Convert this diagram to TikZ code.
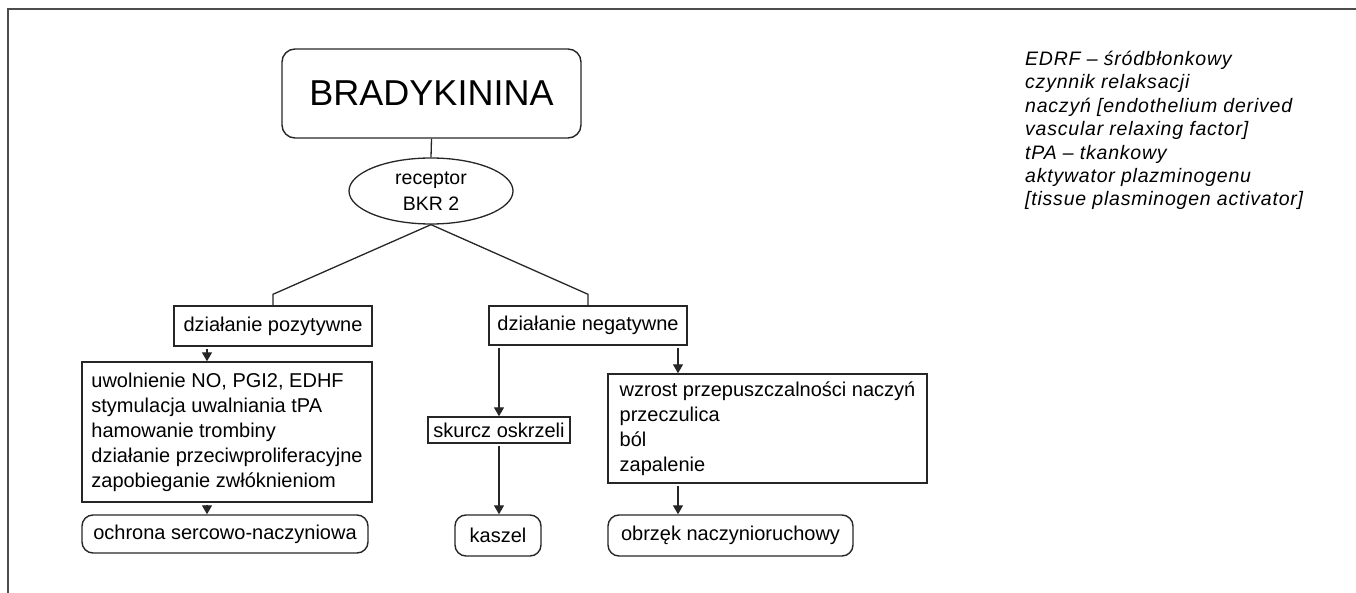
\documentclass[tikz,border=0pt]{standalone}
\usepackage{fontspec}
\setmainfont{Liberation Sans}
\usetikzlibrary{arrows.meta,shapes.geometric}
\newcommand{\FS}{\fontsize{20}{25}\selectfont}
\newcommand{\KEYFONT}{\fontsize{19.5}{23.4}\selectfont\itshape\addfontfeatures{LetterSpace=4}}

\begin{document}
\begin{tikzpicture}[
    x=1pt, y=-1pt,
    >={Triangle[width=10pt,length=9pt]},
    link/.style={draw=black!85, line width=1.3pt},
    arr/.style={link, ->, shorten <=2pt},
    box/.style={rectangle, draw=black!85, line width=1.4pt, font=\FS, inner sep=0pt},
    rbox/.style={box, rounded corners=11pt},
    listbox/.style={box, align=left},
    legend/.style={font=\KEYFONT, align=left, anchor=north west, inner sep=0pt},
  ]
  \useasboundingbox (0,0) rectangle (1356,593);

  %% ================= frame =================
  \draw[black!70, line width=1.6pt] (8,593) -- (8,9) -- (1356,9);

  %% ================= top: the hormone and its receptor =================
  \node[rbox, rounded corners=13pt, minimum width=299pt, minimum height=89pt,
        font=\fontsize{36}{40}\selectfont] (brady) at (431.5,93.5) {BRADYKININA};
  \node[ellipse, draw=black!85, line width=1.3pt, minimum width=164pt, minimum height=66pt,
        inner sep=0pt, align=center, font=\fontsize{19.5}{26}\selectfont]
        (rec) at (431,191) {receptor\\BKR 2};
  \draw[link] (brady.south) -- (rec.north);

  %% ================= the two branches =================
  \node[box, minimum width=198pt, minimum height=40pt] (poz) at (273,326) {działanie pozytywne};
  \node[box, minimum width=198pt, minimum height=39pt] (neg) at (588,325.5) {działanie negatywne};
  \draw[link] (rec.south) -- ([yshift=11pt]poz.north) -- (poz.north);
  \draw[link] (rec.south) -- ([yshift=11pt]neg.north) -- (neg.north);

  % columns of the down arrows
  \coordinate (colA) at (207,0);
  \coordinate (colB) at (499,0);
  \coordinate (colC) at (678,0);

  %% ================= positive effects =================
  \node[listbox, minimum width=290pt, minimum height=140pt] (posbox) at (227,432)
    {uwolnienie NO, PGI2, EDHF\\
     stymulacja uwalniania tPA\\
     hamowanie trombiny\\
     działanie przeciwproliferacyjne\\
     zapobieganie zwłóknieniom};
  \node[rbox, minimum width=286pt, minimum height=38pt] (ochrona) at (225,534) {ochrona sercowo-naczyniowa};
  \draw[arr] (poz.south -| colA) -- (posbox.north -| colA);
  \draw[arr] (posbox.south -| colA) -- (ochrona.north -| colA);

  %% ================= negative effects =================
  \node[box, minimum width=142pt, minimum height=26pt] (skurcz) at (499,430) {skurcz oskrzeli};
  \node[rbox, minimum width=86pt, minimum height=41pt] (kaszel) at (498,535.5) {kaszel};
  \draw[arr] (neg.south -| colB) -- (skurcz.north -| colB);
  \draw[arr] (skurcz.south -| colB) -- (kaszel.north -| colB);

  \node[listbox, minimum width=319pt, minimum height=109pt] (negbox) at (767.5,428.5)
    {wzrost przepuszczalności naczyń\\
     przeczulica\\
     ból\\
     zapalenie};
  \node[rbox, minimum width=245pt, minimum height=41pt] (obrzek) at (730.5,535.5) {obrzęk naczynioruchowy};
  \draw[arr] (neg.south -| colC) -- (negbox.north -| colC);
  \draw[arr] (negbox.south -| colC) -- (obrzek.north -| colC);

  %% ================= abbreviations =================
  \node[legend] (key) at (1025,51)
    {EDRF – śródbłonkowy\\
     czynnik relaksacji\\
     naczyń [endothelium derived\\
     vascular relaxing factor]\\
     tPA – tkankowy\\
     aktywator plazminogenu\\{}[tissue plasminogen activator]};

\end{tikzpicture}
\end{document}
